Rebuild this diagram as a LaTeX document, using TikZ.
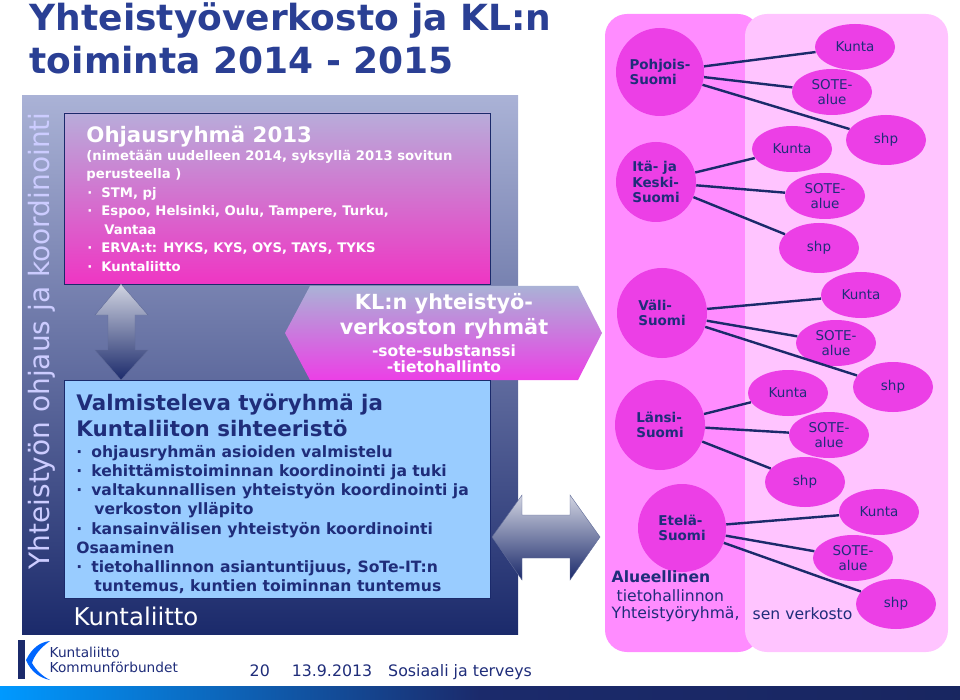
\documentclass[tikz,border=0pt]{standalone}
\usepackage{fontspec}
\setmainfont{DejaVu Sans}
\usetikzlibrary{shapes.geometric}
\definecolor{navy}{HTML}{1B2A6B}
\definecolor{ink}{HTML}{1F2D7A}
\definecolor{titleblue}{HTML}{2A3F94}
\definecolor{mag}{HTML}{EC3FE6}
\definecolor{pinkA}{HTML}{FF8CFF}
\definecolor{pinkB}{HTML}{FFC4FF}
\definecolor{lblue}{HTML}{99CCFF}
\definecolor{lav}{HTML}{AAB2D6}
\definecolor{lavpink}{HTML}{B8ACDA}

\begin{document}
\begin{tikzpicture}[x=1pt,y=-1pt,thick,
  region/.style={circle,fill=mag,text=ink,font=\bfseries\fontsize{13.5}{15.5}\selectfont,
    align=left,inner sep=0pt},
  unit/.style={ellipse,fill=mag,text=ink,font=\fontsize{13.5}{15}\selectfont,
    align=center,minimum width=80,minimum height=46,inner sep=0pt},
  link/.style={draw=navy,line width=2.4pt},
  dblarrow/.style={draw=navy!70,thin,top color=white!80!navy,bottom color=navy}]

  \useasboundingbox (0,0) rectangle (960,700);

  % title
  \node[anchor=north west,align=left,text=titleblue,
    font=\bfseries\fontsize{36}{43}\selectfont] (title) at (26,-1)
    {Yhteistyöverkosto ja KL:n\\toiminta 2014 - 2015};

  % left panel
  \shade[top color=lav,bottom color=navy] (22,96) rectangle (518,634);
  \node[rotate=90,text=white!80!blue,font=\fontsize{28}{30}\selectfont] (vert) at (42,341)
    {Yhteistyön ohjaus ja koordinointi};

  \draw[navy,top color=lavpink,bottom color=mag!85!red] (64,113) rectangle (490,284);
  \node[anchor=north west,align=left,text=white,inner sep=0pt,
    font=\bfseries\fontsize{13.2}{18.5}\selectfont] (ohj) at (86,126)
    {{\fontsize{21.3}{21}\selectfont Ohjausryhmä 2013}\\[-1pt]
     (nimetään uudelleen 2014, syksyllä 2013 sovitun\\
     perusteella )\\
     \hspace{1pt}\textperiodcentered\hspace{9pt}STM, pj\\
     \hspace{1pt}\textperiodcentered\hspace{9pt}Espoo, Helsinki, Oulu, Tampere, Turku,\\
     \hspace{18pt}Vantaa\\
     \hspace{1pt}\textperiodcentered\hspace{9pt}ERVA:t: HYKS, KYS, OYS, TAYS, TYKS\\
     \hspace{1pt}\textperiodcentered\hspace{9pt}Kuntaliitto};

  % vertical double arrow
  \draw[dblarrow] (121,284) -- (148,315) -- (135,315) -- (135,350) -- (148,350)
    -- (121,380) -- (95,350) -- (108,350) -- (108,315) -- (95,315) -- cycle;

  % group arrow
  \draw[draw=none,top color=lav,bottom color=mag]
    (285,333) -- (310,286) -- (578,286) -- (602,333) -- (578,380) -- (310,380) -- cycle;
  \node[align=center,text=white,font=\bfseries\fontsize{20.8}{25}\selectfont] (groups) at (444,316)
    {KL:n yhteistyö-\\verkoston ryhmät};
  \node[align=center,text=white,font=\bfseries\fontsize{15.5}{16}\selectfont] (groupsub) at (444,359)
    {-sote-substanssi\\-tietohallinto};

  \draw[navy,fill=lblue] (64,380) rectangle (490,598);
  \node[anchor=north west,align=left,text=ink,inner sep=0pt,
    font=\bfseries\fontsize{15.6}{19.2}\selectfont] (valm) at (76,394)
    {{\fontsize{21.4}{23}\selectfont Valmisteleva työryhmä ja}\\[3pt]
     {\fontsize{21.4}{23}\selectfont Kuntaliiton sihteeristö}\\[2pt]
     \textperiodcentered\hspace{9pt}ohjausryhmän asioiden valmistelu\\
     \textperiodcentered\hspace{9pt}kehittämistoiminnan koordinointi ja tuki\\
     \textperiodcentered\hspace{9pt}valtakunnallisen yhteistyön koordinointi ja\\
     \hspace{18pt}verkoston ylläpito\\
     \textperiodcentered\hspace{9pt}kansainvälisen yhteistyön koordinointi\\
     Osaaminen\\
     \textperiodcentered\hspace{9pt}tietohallinnon asiantuntijuus, SoTe-IT:n\\
     \hspace{18pt}tuntemus, kuntien toiminnan tuntemus};
  \node[anchor=west,text=white,font=\fontsize{24.4}{26}\selectfont] (kl) at (70,616) {Kuntaliitto};

  % horizontal double arrow
  \draw[dblarrow] (492,537) -- (522,495) -- (522,515) -- (570,515) -- (570,495)
    -- (600,537) -- (570,580) -- (570,558) -- (522,558) -- (522,580) -- cycle;

  % regional panels
  \fill[pinkA,rounded corners=22] (605,14) rectangle (760,652);
  \fill[pinkB,rounded corners=22] (745,14) rectangle (948,652);

  \node[region] (PS) at (660,72) [minimum size=88] {Pohjois-\\Suomi};
  \node[region] (IK) at (656,182) [minimum size=80] {Itä- ja\\Keski-\\Suomi};
  \node[region] (VS) at (662,313) [minimum size=90] {Väli-\\Suomi};
  \node[region] (LS) at (660,425) [minimum size=90] {Länsi-\\Suomi};
  \node[region] (ES) at (682,528) [minimum size=88] {Etelä-\\Suomi};

  \node[unit] (PSk) at (855,47) {Kunta};
  \node[unit] (PSs) at (832,92) {SOTE-\\alue};
  \node[unit,minimum height=50] (PSh) at (886,140) {shp};
  \node[unit] (IKk) at (792,149) {Kunta};
  \node[unit] (IKs) at (825,196) {SOTE-\\alue};
  \node[unit,minimum height=50] (IKh) at (819,248) {shp};
  \node[unit] (VSk) at (861,295) {Kunta};
  \node[unit] (VSs) at (836,343) {SOTE-\\alue};
  \node[unit,minimum height=50] (VSh) at (893,387) {shp};
  \node[unit] (LSk) at (788,393) {Kunta};
  \node[unit] (LSs) at (829,435) {SOTE-\\alue};
  \node[unit,minimum height=50] (LSh) at (805,482) {shp};
  \node[unit] (ESk) at (879,512) {Kunta};
  \node[unit] (ESs) at (853,558) {SOTE-\\alue};
  \node[unit,minimum height=50] (ESh) at (896,604) {shp};

  \foreach \r in {PS,IK,VS,LS,ES}
    \foreach \u in {k,s,h}
      \draw[link] (\r) -- (\r\u);

  \node[anchor=west,text=ink,font=\bfseries\fontsize{15.6}{17}\selectfont] (alu) at (608,577) {Alueellinen};
  \node[anchor=west,text=ink,font=\fontsize{15.6}{17}\selectfont] (tie) at (613,596) {tietohallinnon};
  \node[anchor=west,text=ink,font=\fontsize{15.6}{17}\selectfont] (yht) at (608,614) {Yhteistyöryhmä,};
  \node[anchor=west,text=ink,font=\fontsize{15.6}{17}\selectfont] (sen) at (749,614) {sen verkosto};

  % footer
  \fill[navy] (18,640) rectangle (25,679);
  \fill[blue!60!cyan] (26,660) .. controls (32,648) and (40,642) .. (50,641)
    .. controls (40,648) and (34,656) .. (32,663) .. controls (36,670) and (42,676) .. (50,680)
    .. controls (40,678) and (31,672) .. cycle;
  \node[anchor=west,align=left,text=ink,font=\fontsize{13.7}{15}\selectfont] (logo) at (46,660)
    {Kuntaliitto\\Kommunförbundet};
  \node[anchor=west,text=ink,font=\fontsize{15.8}{17}\selectfont] (foot) at (246,672)
    {20\hspace{22pt}13.9.2013\hspace{16pt}Sosiaali ja terveys};
  \shade[left color=cyan!60!blue,right color=navy!90!black,middle color=navy] (0,686) rectangle (960,700);
\end{tikzpicture}
\end{document}
